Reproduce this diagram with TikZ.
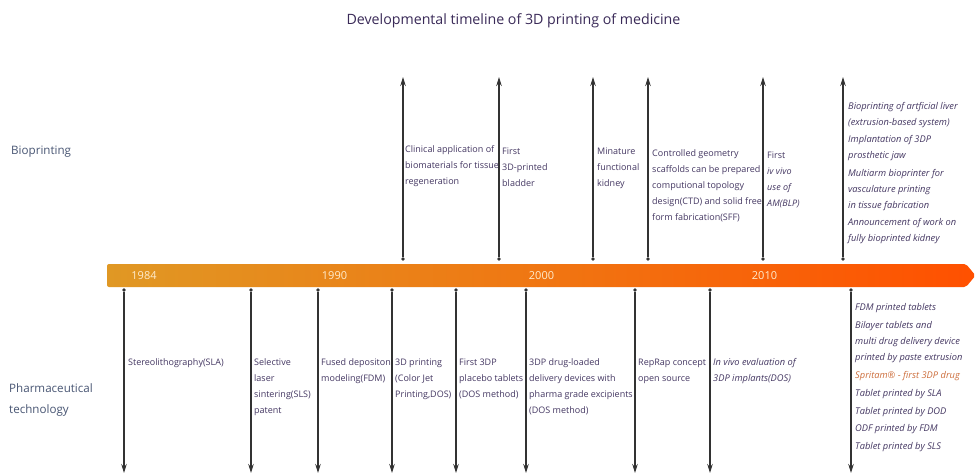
\documentclass[tikz,border=0pt]{standalone}
\usepackage{fontspec}
\setmainfont{Open Sans}
\usetikzlibrary{arrows.meta}
\definecolor{txt}{RGB}{68,55,98}
\definecolor{ttl}{RGB}{58,42,88}
\definecolor{side}{RGB}{72,85,115}
\definecolor{arr}{RGB}{50,50,50}
\definecolor{bandL}{RGB}{224,152,36}
\definecolor{bandM}{RGB}{240,118,18}
\definecolor{bandR}{RGB}{255,80,0}
\definecolor{yr}{RGB}{255,236,205}
\definecolor{sprit}{RGB}{205,110,60}
\begin{document}
\begin{tikzpicture}[x=1pt,y=-1pt,
  evt/.style={anchor=north west,inner sep=0pt,align=left,text=txt,font=\fontsize{9}{16}\selectfont},
  evti/.style={evt,font=\fontsize{9.3}{16}\selectfont\itshape},
  sidelbl/.style={anchor=north west,inner sep=0pt,align=left,text=side,font=\fontsize{11.6}{21}\selectfont},
  year/.style={inner sep=0pt,text=yr,font=\fontsize{11}{13}\selectfont},
  dotn/.style={circle,fill=arr,inner sep=0pt,minimum size=3.6pt},
  tl/.style={draw=arr,line width=1.2pt,-{Stealth[length=9pt,width=5.5pt]}}]
\useasboundingbox (0,0) rectangle (976,475);
\fill[white] (0,0) rectangle (976,475);
% title
\node[inner sep=0pt,text=ttl,font=\fontsize{14.2}{16}\selectfont] (title) at (513.5,20.7) {Developmental timeline of 3D printing of medicine};
% side labels
\node[sidelbl] (bio) at (11,139.2) {\strut Bioprinting};
\node[sidelbl] (pharm) at (9,377.2) {\strut Pharmaceutical\\technology};
% band
\shade[left color=bandL,right color=bandR,middle color=bandM,rounded corners=2pt]
  (107,264) -- (966,264) -- (975.5,275.5) -- (966,287) -- (107,287) -- cycle;
\node[year] (y1984) at (144,275.5) {1984};
\node[year] (y1990) at (334.5,275.5) {1990};
\node[year] (y2000) at (541.5,275.5) {2000};
\node[year] (y2010) at (764.5,275.5) {2010};
% upper arrows
\foreach \n/\x in {1/403,2/499,3/593,4/648,5/763,6/843}{
  \node[dotn] (u\n) at (\x,259) {};
  \coordinate (u\n t) at (\x,77);
  \draw[tl] (u\n) -- (u\n t);
}
% lower arrows
\foreach \n/\x in {1/124,2/251,3/318,4/392,5/456,6/526,7/635,8/710,9/851}{
  \node[dotn] (d\n) at (\x,290) {};
  \coordinate (d\n t) at (\x,473);
  \draw[tl] (d\n) -- (d\n t);
}
% upper texts
\node[evt] (t1) at (405,141.2) {\strut Clinical application of\\biomaterials for tissue\\regeneration};
\node[evt] (t2) at (502,143.2) {\strut First\\3D-printed\\bladder};
\node[evt] (t3) at (597,143.2) {\strut Minature\\functional\\kidney};
\node[evt] (t4) at (652,145.2) {\strut Controlled geometry\\scaffolds can be prepared\\computional topology\\design(CTD) and solid free\\form fabrication(SFF)};
\node[evt] (t5) at (767,147.2) {\strut First\\\itshape iv vivo\\\itshape use of\\\itshape AM(BLP)};
\node[evti] (t6) at (848,97.7) {\strut Bioprinting of artficial liver\\(extrusion-based system)\\[1.5pt]Implantation of 3DP\\prosthetic jaw\\[1.5pt]Multiarm bioprinter for\\vasculature printing\\in tissue fabrication\\[1.5pt]Announcement of work on\\fully bioprinted kidney};
% lower texts
\node[evt] (b1) at (128,354.5) {\strut Stereolithography(SLA)};
\node[evt] (b2) at (254,354.5) {\strut Selective\\laser\\sintering(SLS)\\patent};
\node[evt] (b3) at (321,354.5) {\strut Fused depositon\\modeling(FDM)};
\node[evt] (b4) at (395,354.5) {\strut 3D printing\\(Color Jet\\Printing,DOS)};
\node[evt] (b5) at (459,354.5) {\strut First 3DP\\placebo tablets\\(DOS method)};
\node[evt] (b6) at (529,354.5) {\strut 3DP drug-loaded\\delivery devices with\\pharma grade excipients\\(DOS method)};
\node[evt] (b7) at (638,354.5) {\strut RepRap concept\\open source};
\node[evti] (b8) at (713,354.5) {\strut In vivo evaluation of\\3DP implants(DOS)};
\node[evti] (b9) at (855,299.5) {\strut FDM printed tablets\\[1.8pt]Bilayer tablets and\\multi drug delivery device\\printed by paste extrusion\\[1.8pt]\textcolor{sprit}{Spritam® - first 3DP drug}\\[1.8pt]Tablet printed by SLA\\[1.8pt]Tablet printed by DOD\\[1.8pt]ODF printed by FDM\\[1.8pt]Tablet printed by SLS};
\end{tikzpicture}
\end{document}
